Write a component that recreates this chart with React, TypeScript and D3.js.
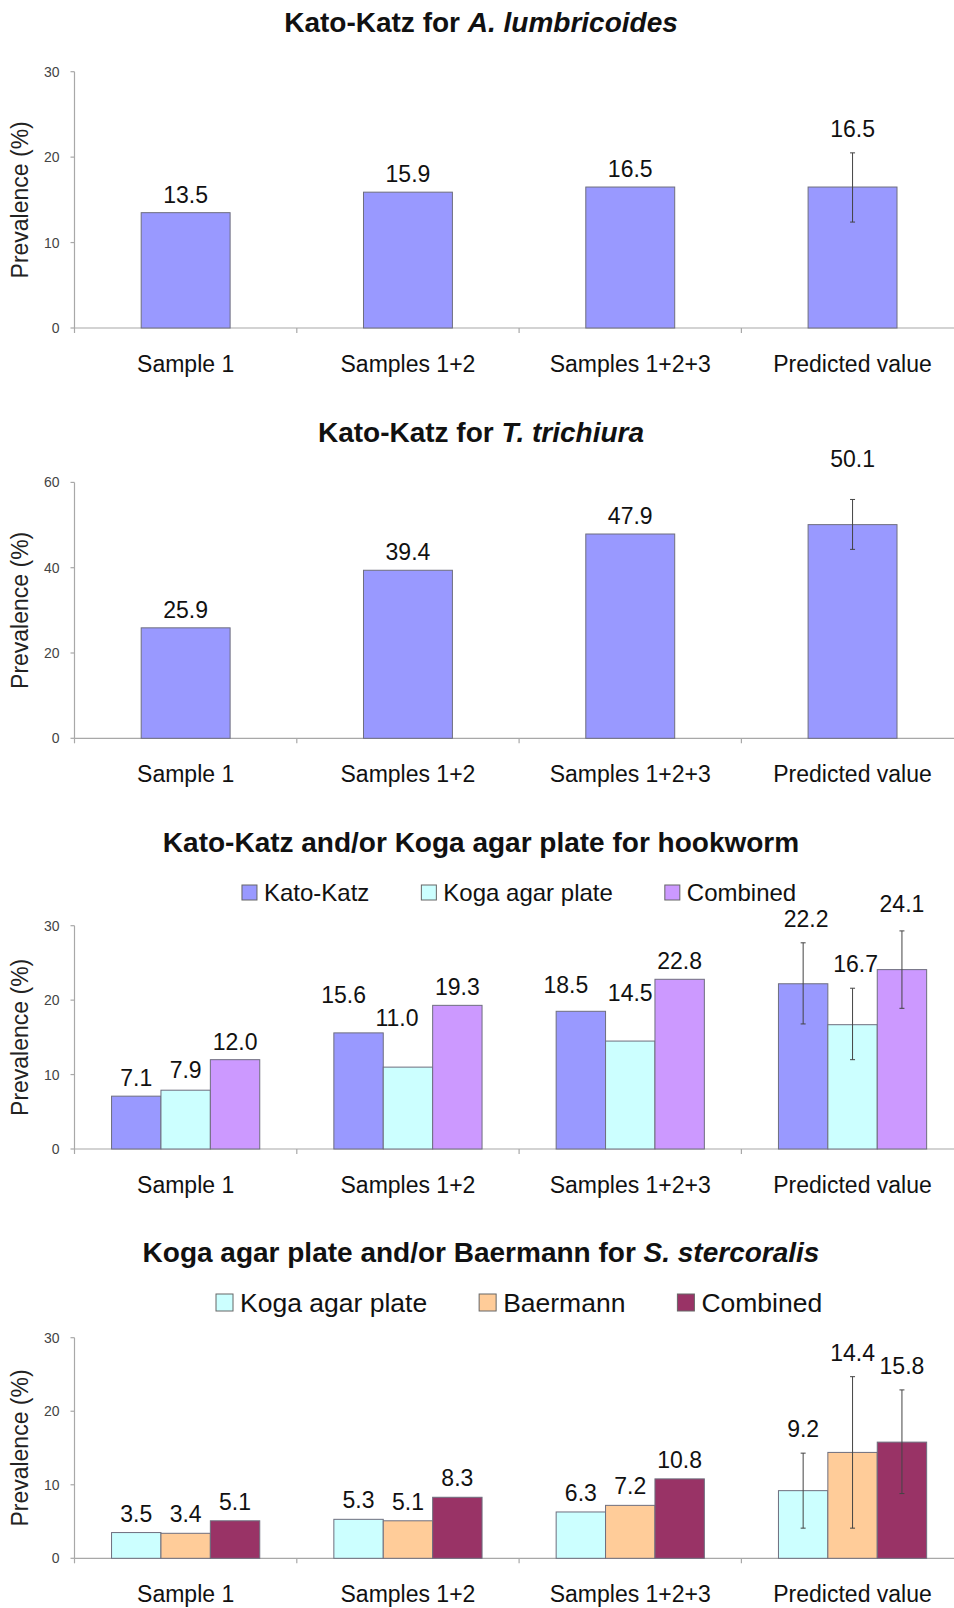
import React, { useEffect, useRef } from 'react';
import * as d3 from 'd3';

// ---------- DATA ----------
const categories = ['Sample 1', 'Samples 1+2', 'Samples 1+2+3', 'Predicted value'];

const lumbricoidesKatoKatz = [13.5, 15.9, 16.5, 16.5];
const lumbricoidesKatoKatzErr: ([number, number] | null)[] = [null, null, null, [12.4, 20.5]];

const trichiuraKatoKatz = [25.9, 39.4, 47.9, 50.1];
const trichiuraKatoKatzErr: ([number, number] | null)[] = [null, null, null, [44.3, 56.0]];

const hookwormKatoKatz = [7.1, 15.6, 18.5, 22.2];
const hookwormKatoKatzErr: ([number, number] | null)[] = [null, null, null, [16.8, 27.7]];
const hookwormKoga = [7.9, 11.0, 14.5, 16.7];
const hookwormKogaErr: ([number, number] | null)[] = [null, null, null, [12.0, 21.6]];
const hookwormCombined = [12.0, 19.3, 22.8, 24.1];
const hookwormCombinedErr: ([number, number] | null)[] = [null, null, null, [18.9, 29.3]];

const strongyKoga = [3.5, 5.3, 6.3, 9.2];
const strongyKogaErr: ([number, number] | null)[] = [null, null, null, [4.1, 14.3]];
const strongyBaermann = [3.4, 5.1, 7.2, 14.4];
const strongyBaermannErr: ([number, number] | null)[] = [null, null, null, [4.1, 24.7]];
const strongyCombined = [5.1, 8.3, 10.8, 15.8];
const strongyCombinedErr: ([number, number] | null)[] = [null, null, null, [8.8, 22.9]];

const yTicks30 = [0, 10, 20, 30];
const yTicks60 = [0, 20, 40, 60];

const yAxisTitle = 'Prevalence (%)';

// ---------- STYLE / LAYOUT ----------
const FONT = "'Liberation Sans', Arial, Helvetica, sans-serif";
const COLORS = {
  katoKatz: '#9999ff',
  koga: '#ccffff',
  combinedHook: '#cc99ff',
  baermann: '#ffcc99',
  combinedStrongy: '#993366',
};

type Series = { name: string; values: number[]; err: ([number, number] | null)[]; color: string };
type Layout = {
  titleY: number;
  legendY: number;
  top: number;
  bottom: number;
  legendFont: number;
  legendSq: number;
  labelGap: number;
  // manual label nudges [dx, dy] per series per category (as placed in the original)
  labelNudge?: [number, number][][];
};
type ChartSpec = {
  title: { text: string; italic?: boolean }[];
  series: Series[];
  showLegend: boolean;
  yMax: number;
  ticks: number[];
  layout: Layout;
};

const charts: ChartSpec[] = [
  {
    title: [{ text: 'Kato-Katz for ' }, { text: 'A. lumbricoides', italic: true }],
    series: [{ name: 'Kato-Katz', values: lumbricoidesKatoKatz, err: lumbricoidesKatoKatzErr, color: COLORS.katoKatz }],
    showLegend: false,
    yMax: 30,
    ticks: yTicks30,
    layout: { titleY: 32, legendY: 0, top: 71.7, bottom: 328, legendFont: 24, legendSq: 15, labelGap: 10 },
  },
  {
    title: [{ text: 'Kato-Katz for ' }, { text: 'T. trichiura', italic: true }],
    series: [{ name: 'Kato-Katz', values: trichiuraKatoKatz, err: trichiuraKatoKatzErr, color: COLORS.katoKatz }],
    showLegend: false,
    yMax: 60,
    ticks: yTicks60,
    layout: {
      titleY: 442, legendY: 0, top: 482.4, bottom: 738.3, legendFont: 24, legendSq: 15, labelGap: 10,
      labelNudge: [[[0, 0], [0, 0], [0, 0], [0, -16]]],
    },
  },
  {
    title: [{ text: 'Kato-Katz and/or Koga agar plate for hookworm' }],
    series: [
      { name: 'Kato-Katz', values: hookwormKatoKatz, err: hookwormKatoKatzErr, color: COLORS.katoKatz },
      { name: 'Koga agar plate', values: hookwormKoga, err: hookwormKogaErr, color: COLORS.koga },
      { name: 'Combined', values: hookwormCombined, err: hookwormCombinedErr, color: COLORS.combinedHook },
    ],
    showLegend: true,
    yMax: 30,
    ticks: yTicks30,
    layout: {
      titleY: 852, legendY: 901, top: 925.7, bottom: 1149, legendFont: 24, legendSq: 15, labelGap: 10,
      labelNudge: [
        [[0, 0], [-15, -20], [-15, -8], [3, 0]],
        [[0, -2], [-11, -31], [0, -30], [3, 0]],
        [[0, 0], [0, 0], [0, 0], [0, -3]],
      ],
    },
  },
  {
    title: [{ text: 'Koga agar plate and/or Baermann for ' }, { text: 'S. stercoralis', italic: true }],
    series: [
      { name: 'Koga agar plate', values: strongyKoga, err: strongyKogaErr, color: COLORS.koga },
      { name: 'Baermann', values: strongyBaermann, err: strongyBaermannErr, color: COLORS.baermann },
      { name: 'Combined', values: strongyCombined, err: strongyCombinedErr, color: COLORS.combinedStrongy },
    ],
    showLegend: true,
    yMax: 30,
    ticks: yTicks30,
    layout: { titleY: 1262, legendY: 1312, top: 1337.7, bottom: 1558.3, legendFont: 26.5, legendSq: 17, labelGap: 11 },
  },
];

const AX_LEFT = 74.5;
const BAND = 222.3;
const TITLE_X = 481;
const AXIS_COLOR = '#a8a8a8';

export default function App() {
  const ref = useRef<SVGSVGElement | null>(null);

  useEffect(() => {
    const svg = d3.select(ref.current);
    svg.selectAll('*').remove();

    const x0 = d3
      .scaleBand<string>()
      .domain(categories)
      .range([AX_LEFT, AX_LEFT + BAND * categories.length])
      .paddingInner(0)
      .paddingOuter(0);

    const fmt = d3.format('.1f');

    charts.forEach((c) => {
      const g = svg.append('g');
      const L = c.layout;
      const y = d3.scaleLinear().domain([0, c.yMax]).range([L.bottom, L.top]);
      const xs = d3
        .scaleBand<string>()
        .domain(c.series.map((s) => s.name))
        .range([0, x0.bandwidth()])
        .paddingInner(0)
        .paddingOuter(0.75);

      // Title
      const t = g
        .append('text')
        .attr('x', TITLE_X)
        .attr('y', L.titleY)
        .attr('text-anchor', 'middle')
        .attr('font-family', FONT)
        .attr('font-weight', 'bold')
        .attr('font-size', 28)
        .attr('fill', '#111');
      c.title.forEach((p) => {
        t.append('tspan').attr('font-style', p.italic ? 'italic' : 'normal').text(p.text);
      });

      // Legend
      if (c.showLegend) {
        const lg = g.append('g');
        let cx = 0;
        c.series.forEach((s, i) => {
          const txt = lg
            .append('text')
            .attr('font-family', FONT)
            .attr('font-size', L.legendFont)
            .attr('fill', '#111')
            .attr('y', L.legendY)
            .text(s.name);
          const w = (txt.node() as SVGTextElement).getComputedTextLength();
          const sqX = cx;
          const txX = cx + L.legendSq + 7;
          txt.attr('x', txX);
          lg.append('rect')
            .attr('x', sqX)
            .attr('y', L.legendY - L.legendSq - 1)
            .attr('width', L.legendSq)
            .attr('height', L.legendSq)
            .attr('fill', s.color)
            .attr('stroke', '#666')
            .attr('stroke-width', 1);
          cx = txX + w + (i < c.series.length - 1 ? 52 : 0);
        });
        const plotCenter = (x0.range()[0] + x0.range()[1]) / 2;
        lg.attr('transform', `translate(${plotCenter - cx / 2},0)`);
      }

      // Axes
      g.append('line')
        .attr('x1', AX_LEFT).attr('x2', AX_LEFT)
        .attr('y1', L.top).attr('y2', L.bottom)
        .attr('stroke', AXIS_COLOR).attr('stroke-width', 1.2);
      g.append('line')
        .attr('x1', AX_LEFT).attr('x2', x0.range()[1])
        .attr('y1', L.bottom).attr('y2', L.bottom)
        .attr('stroke', AXIS_COLOR).attr('stroke-width', 1.2);

      c.ticks.forEach((tv) => {
        g.append('line')
          .attr('x1', AX_LEFT - 4).attr('x2', AX_LEFT)
          .attr('y1', y(tv)).attr('y2', y(tv))
          .attr('stroke', AXIS_COLOR).attr('stroke-width', 1.2);
        g.append('text')
          .attr('x', AX_LEFT - 15)
          .attr('y', y(tv))
          .attr('dy', '0.36em')
          .attr('text-anchor', 'end')
          .attr('font-family', FONT)
          .attr('font-size', 14)
          .attr('fill', '#444')
          .text(String(tv));
      });

      categories.forEach((cat) => {
        const bx = x0(cat)!;
        g.append('line')
          .attr('x1', bx).attr('x2', bx)
          .attr('y1', L.bottom).attr('y2', L.bottom + 5)
          .attr('stroke', AXIS_COLOR).attr('stroke-width', 1.2);
        g.append('text')
          .attr('x', bx + x0.bandwidth() / 2)
          .attr('y', L.bottom + 44)
          .attr('text-anchor', 'middle')
          .attr('font-family', FONT)
          .attr('font-size', 23)
          .attr('fill', '#111')
          .text(cat);
      });

      // Y axis title
      g.append('text')
        .attr('transform', `translate(28,${(L.top + L.bottom) / 2}) rotate(-90)`)
        .attr('text-anchor', 'middle')
        .attr('font-family', FONT)
        .attr('font-size', 23)
        .attr('fill', '#222')
        .text(yAxisTitle);

      // Bars
      c.series.forEach((s) => {
        s.values.forEach((v, i) => {
          const cat = categories[i];
          const bx = x0(cat)! + xs(s.name)!;
          g.append('rect')
            .attr('x', bx)
            .attr('y', y(v))
            .attr('width', xs.bandwidth())
            .attr('height', y(0) - y(v))
            .attr('fill', s.color)
            .attr('stroke', '#6e6e7e')
            .attr('stroke-width', 1);
        });
      });

      // Error bars and labels
      c.series.forEach((s, si) => {
        s.values.forEach((v, i) => {
          const cat = categories[i];
          const cxm = x0(cat)! + xs(s.name)! + xs.bandwidth() / 2;
          const e = s.err[i];
          let labelY = y(v) - L.labelGap;
          if (e) {
            const [lo, hi] = e;
            g.append('line')
              .attr('x1', cxm).attr('x2', cxm)
              .attr('y1', y(lo)).attr('y2', y(hi))
              .attr('stroke', '#444').attr('stroke-width', 1);
            [lo, hi].forEach((ev) => {
              g.append('line')
                .attr('x1', cxm - 2.5).attr('x2', cxm + 2.5)
                .attr('y1', y(ev)).attr('y2', y(ev))
                .attr('stroke', '#444').attr('stroke-width', 1);
            });
            labelY = Math.min(labelY, y(hi) - 16);
          }
          const nudge = L.labelNudge ? L.labelNudge[si][i] : [0, 0];
          g.append('text')
            .attr('x', cxm + nudge[0])
            .attr('y', labelY + nudge[1])
            .attr('text-anchor', 'middle')
            .attr('font-family', FONT)
            .attr('font-size', 23)
            .attr('fill', '#111')
            .text(fmt(v));
        });
      });
    });
  }, []);

  return (
    <svg
      ref={ref}
      width={954}
      height={1608}
      style={{ position: 'absolute', left: 0, top: 0, background: '#fff' }}
    />
  );
}
